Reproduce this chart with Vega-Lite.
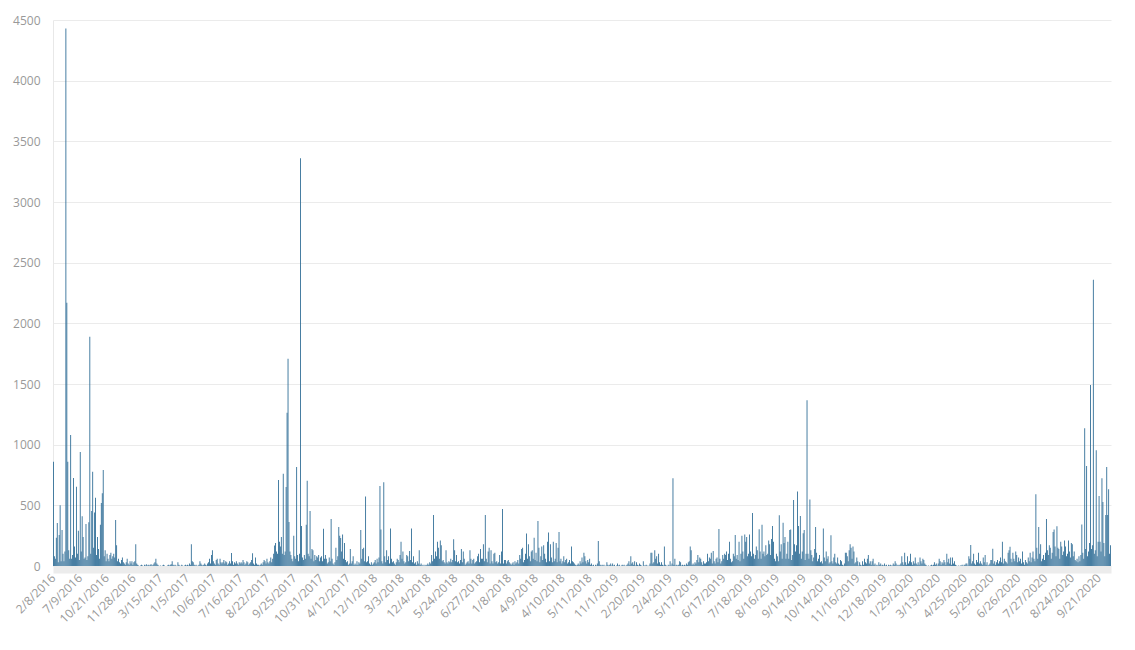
{
"$schema": "https://vega.github.io/schema/vega-lite/v6.json",
"autosize": {"type": "none"},
"padding": {"left": 53, "top": 20, "right": 24, "bottom": 84},
"width": 1058,
"height": 546,
"background": "#ffffff",
"config": {"view": {"stroke": null}, "font": "Open Sans"},
"data": {"values": [
{"d":"2/8/2016","v":860},{"d":"3/8/2016","v":80},{"d":"4/8/2016","v":60},{"d":"5/8/2016","v":233},{"d":"6/8/2016","v":355},{"d":"7/8/2016","v":30},{"d":"8/8/2016","v":255},{"d":"9/8/2016","v":500},{"d":"10/8/2016","v":40},{"d":"11/8/2016","v":297},{"d":"12/8/2016","v":100},{"d":"8/13/2016","v":40},{"d":"8/14/2016","v":120},{"d":"8/15/2016","v":4430},{"d":"8/16/2016","v":2170},{"d":"8/17/2016","v":860},{"d":"8/18/2016","v":130},{"d":"8/19/2016","v":60},{"d":"8/20/2016","v":1080},{"d":"8/21/2016","v":60},{"d":"8/22/2016","v":90},{"d":"8/23/2016","v":725},{"d":"8/24/2016","v":160},{"d":"8/25/2016","v":70},{"d":"8/26/2016","v":654},{"d":"8/27/2016","v":100},{"d":"8/28/2016","v":290},{"d":"8/29/2016","v":50},
{"d":"7/9/2016","v":940},{"d":"8/9/2016","v":120},{"d":"9/9/2016","v":410},{"d":"10/9/2016","v":240},{"d":"11/9/2016","v":60},{"d":"12/9/2016","v":70},{"d":"9/13/2016","v":346},{"d":"9/14/2016","v":50},{"d":"9/15/2016","v":80},{"d":"9/16/2016","v":360},{"d":"9/17/2016","v":1890},{"d":"9/18/2016","v":100},{"d":"9/19/2016","v":453},{"d":"9/20/2016","v":777},{"d":"9/21/2016","v":150},{"d":"9/22/2016","v":440},{"d":"9/23/2016","v":563},{"d":"9/24/2016","v":90},{"d":"9/25/2016","v":240},{"d":"9/26/2016","v":140},{"d":"9/27/2016","v":60},{"d":"9/28/2016","v":340},{"d":"9/29/2016","v":520},{"d":"9/30/2016","v":600},{"d":"1/10/2016","v":791},{"d":"2/10/2016","v":80},{"d":"3/10/2016","v":130},{"d":"4/10/2016","v":40},
{"d":"10/21/2016","v":100},{"d":"10/22/2016","v":60},{"d":"10/23/2016","v":40},{"d":"10/24/2016","v":90},{"d":"10/25/2016","v":110},{"d":"10/26/2016","v":60},{"d":"10/27/2016","v":80},{"d":"10/28/2016","v":100},{"d":"10/29/2016","v":70},{"d":"10/30/2016","v":380},{"d":"10/31/2016","v":170},{"d":"1/11/2016","v":40},{"d":"2/11/2016","v":60},{"d":"3/11/2016","v":30},{"d":"4/11/2016","v":20},{"d":"5/11/2016","v":50},{"d":"6/11/2016","v":70},{"d":"7/11/2016","v":30},{"d":"8/11/2016","v":20},{"d":"9/11/2016","v":10},{"d":"10/11/2016","v":30},{"d":"11/11/2016","v":60},{"d":"12/11/2016","v":20},{"d":"11/13/2016","v":10},{"d":"11/14/2016","v":40},{"d":"11/15/2016","v":20},{"d":"11/16/2016","v":40},{"d":"11/17/2016","v":10},
{"d":"11/28/2016","v":30},{"d":"11/29/2016","v":40},{"d":"11/30/2016","v":180},{"d":"1/12/2016","v":20},{"d":"2/12/2016","v":10},{"d":"3/12/2016","v":5},{"d":"4/12/2016","v":0},{"d":"5/12/2016","v":5},{"d":"6/12/2016","v":10},{"d":"7/12/2016","v":5},{"d":"8/12/2016","v":0},{"d":"9/12/2016","v":10},{"d":"10/12/2016","v":5},{"d":"11/12/2016","v":15},{"d":"12/12/2016","v":5},{"d":"12/13/2016","v":10},{"d":"12/14/2016","v":5},{"d":"12/15/2016","v":10},{"d":"12/16/2016","v":15},{"d":"12/17/2016","v":5},{"d":"12/18/2016","v":10},{"d":"12/19/2016","v":20},{"d":"12/20/2016","v":30},{"d":"12/21/2016","v":60},{"d":"12/22/2016","v":20},{"d":"12/23/2016","v":10},{"d":"12/24/2016","v":5},{"d":"12/25/2016","v":0},
{"d":"3/15/2017","v":5},{"d":"3/16/2017","v":0},{"d":"3/17/2017","v":5},{"d":"3/18/2017","v":10},{"d":"3/19/2017","v":5},{"d":"3/20/2017","v":0},{"d":"3/21/2017","v":0},{"d":"3/22/2017","v":5},{"d":"3/23/2017","v":10},{"d":"3/24/2017","v":5},{"d":"3/25/2017","v":10},{"d":"3/26/2017","v":15},{"d":"3/27/2017","v":40},{"d":"3/28/2017","v":10},{"d":"3/29/2017","v":5},{"d":"3/30/2017","v":10},{"d":"3/31/2017","v":5},{"d":"1/4/2017","v":0},{"d":"2/4/2017","v":30},{"d":"3/4/2017","v":10},{"d":"4/4/2017","v":5},{"d":"5/4/2017","v":0},{"d":"6/4/2017","v":10},{"d":"7/4/2017","v":5},{"d":"8/4/2017","v":0},{"d":"9/4/2017","v":5},{"d":"10/4/2017","v":10},{"d":"11/4/2017","v":5},
{"d":"1/5/2017","v":10},{"d":"2/5/2017","v":5},{"d":"3/5/2017","v":20},{"d":"4/5/2017","v":10},{"d":"5/5/2017","v":180},{"d":"6/5/2017","v":40},{"d":"7/5/2017","v":30},{"d":"8/5/2017","v":10},{"d":"9/5/2017","v":5},{"d":"10/5/2017","v":10},{"d":"11/5/2017","v":0},{"d":"12/5/2017","v":5},{"d":"5/13/2017","v":10},{"d":"5/14/2017","v":40},{"d":"5/15/2017","v":20},{"d":"5/16/2017","v":10},{"d":"5/17/2017","v":5},{"d":"5/18/2017","v":10},{"d":"5/19/2017","v":20},{"d":"5/20/2017","v":10},{"d":"5/21/2017","v":5},{"d":"5/22/2017","v":20},{"d":"5/23/2017","v":30},{"d":"5/24/2017","v":60},{"d":"5/25/2017","v":20},{"d":"5/26/2017","v":90},{"d":"5/27/2017","v":130},{"d":"5/28/2017","v":40},
{"d":"10/6/2017","v":20},{"d":"11/6/2017","v":10},{"d":"12/6/2017","v":50},{"d":"6/13/2017","v":60},{"d":"6/14/2017","v":20},{"d":"6/15/2017","v":10},{"d":"6/16/2017","v":60},{"d":"6/17/2017","v":30},{"d":"6/18/2017","v":20},{"d":"6/19/2017","v":30},{"d":"6/20/2017","v":50},{"d":"6/21/2017","v":20},{"d":"6/22/2017","v":40},{"d":"6/23/2017","v":30},{"d":"6/24/2017","v":10},{"d":"6/25/2017","v":20},{"d":"6/26/2017","v":40},{"d":"6/27/2017","v":20},{"d":"6/28/2017","v":107},{"d":"6/29/2017","v":40},{"d":"6/30/2017","v":10},{"d":"1/7/2017","v":30},{"d":"2/7/2017","v":20},{"d":"3/7/2017","v":40},{"d":"4/7/2017","v":20},{"d":"5/7/2017","v":10},{"d":"6/7/2017","v":30},{"d":"7/7/2017","v":20},
{"d":"7/16/2017","v":30},{"d":"7/17/2017","v":20},{"d":"7/18/2017","v":50},{"d":"7/19/2017","v":30},{"d":"7/20/2017","v":10},{"d":"7/21/2017","v":20},{"d":"7/22/2017","v":40},{"d":"7/23/2017","v":30},{"d":"7/24/2017","v":10},{"d":"7/25/2017","v":20},{"d":"7/26/2017","v":30},{"d":"7/27/2017","v":50},{"d":"7/28/2017","v":105},{"d":"7/29/2017","v":20},{"d":"7/30/2017","v":10},{"d":"7/31/2017","v":70},{"d":"1/8/2017","v":20},{"d":"2/8/2017","v":10},{"d":"3/8/2017","v":10},{"d":"4/8/2017","v":5},{"d":"5/8/2017","v":10},{"d":"6/8/2017","v":20},{"d":"7/8/2017","v":10},{"d":"8/8/2017","v":30},{"d":"9/8/2017","v":50},{"d":"10/8/2017","v":40},{"d":"11/8/2017","v":20},{"d":"12/8/2017","v":60},
{"d":"8/22/2017","v":30},{"d":"8/23/2017","v":20},{"d":"8/24/2017","v":40},{"d":"8/25/2017","v":70},{"d":"8/26/2017","v":30},{"d":"8/27/2017","v":60},{"d":"8/28/2017","v":100},{"d":"8/29/2017","v":168},{"d":"8/30/2017","v":190},{"d":"8/31/2017","v":120},{"d":"1/9/2017","v":100},{"d":"2/9/2017","v":709},{"d":"3/9/2017","v":200},{"d":"4/9/2017","v":160},{"d":"5/9/2017","v":240},{"d":"6/9/2017","v":100},{"d":"7/9/2017","v":761},{"d":"8/9/2017","v":90},{"d":"9/9/2017","v":120},{"d":"10/9/2017","v":651},{"d":"11/9/2017","v":1264},{"d":"12/9/2017","v":1709},{"d":"9/13/2017","v":363},{"d":"9/14/2017","v":120},{"d":"9/15/2017","v":90},{"d":"9/16/2017","v":60},{"d":"9/17/2017","v":40},{"d":"9/18/2017","v":250},
{"d":"9/25/2017","v":80},{"d":"9/26/2017","v":60},{"d":"9/27/2017","v":816},{"d":"9/28/2017","v":90},{"d":"9/29/2017","v":40},{"d":"9/30/2017","v":100},{"d":"1/10/2017","v":3360},{"d":"2/10/2017","v":330},{"d":"3/10/2017","v":70},{"d":"4/10/2017","v":50},{"d":"5/10/2017","v":90},{"d":"6/10/2017","v":60},{"d":"7/10/2017","v":340},{"d":"8/10/2017","v":703},{"d":"9/10/2017","v":100},{"d":"10/10/2017","v":80},{"d":"11/10/2017","v":453},{"d":"12/10/2017","v":60},{"d":"10/13/2017","v":140},{"d":"10/14/2017","v":130},{"d":"10/15/2017","v":40},{"d":"10/16/2017","v":90},{"d":"10/17/2017","v":50},{"d":"10/18/2017","v":80},{"d":"10/19/2017","v":70},{"d":"10/20/2017","v":90},{"d":"10/21/2017","v":40},{"d":"10/22/2017","v":70},
{"d":"10/31/2017","v":80},{"d":"1/11/2017","v":40},{"d":"2/11/2017","v":308},{"d":"3/11/2017","v":60},{"d":"4/11/2017","v":90},{"d":"5/11/2017","v":60},{"d":"6/11/2017","v":20},{"d":"7/11/2017","v":30},{"d":"8/11/2017","v":70},{"d":"9/11/2017","v":40},{"d":"10/11/2017","v":387},{"d":"11/11/2017","v":60},{"d":"12/11/2017","v":20},{"d":"11/13/2017","v":10},{"d":"11/14/2017","v":30},{"d":"11/15/2017","v":150},{"d":"11/16/2017","v":50},{"d":"11/17/2017","v":80},{"d":"11/18/2017","v":321},{"d":"11/19/2017","v":250},{"d":"11/20/2017","v":230},{"d":"11/21/2017","v":120},{"d":"11/22/2017","v":260},{"d":"11/23/2017","v":60},{"d":"11/24/2017","v":190},{"d":"11/25/2017","v":50},{"d":"11/26/2017","v":30},{"d":"11/27/2017","v":40},
{"d":"4/12/2017","v":10},{"d":"5/12/2017","v":20},{"d":"6/12/2017","v":140},{"d":"7/12/2017","v":20},{"d":"8/12/2017","v":40},{"d":"9/12/2017","v":80},{"d":"10/12/2017","v":10},{"d":"11/12/2017","v":20},{"d":"12/12/2017","v":10},{"d":"12/13/2017","v":40},{"d":"12/14/2017","v":10},{"d":"12/15/2017","v":30},{"d":"12/16/2017","v":20},{"d":"12/17/2017","v":297},{"d":"12/18/2017","v":60},{"d":"12/19/2017","v":140},{"d":"12/20/2017","v":150},{"d":"12/21/2017","v":40},{"d":"12/22/2017","v":572},{"d":"12/23/2017","v":30},{"d":"12/24/2017","v":40},{"d":"12/25/2017","v":80},{"d":"12/26/2017","v":20},{"d":"12/27/2017","v":10},{"d":"12/28/2017","v":30},{"d":"12/29/2017","v":10},{"d":"12/30/2017","v":20},{"d":"12/31/2017","v":30},
{"d":"12/1/2018","v":50},{"d":"1/13/2018","v":20},{"d":"1/14/2018","v":60},{"d":"1/15/2018","v":30},{"d":"1/16/2018","v":70},{"d":"1/17/2018","v":660},{"d":"1/18/2018","v":300},{"d":"1/19/2018","v":40},{"d":"1/20/2018","v":20},{"d":"1/21/2018","v":690},{"d":"1/22/2018","v":80},{"d":"1/23/2018","v":30},{"d":"1/24/2018","v":130},{"d":"1/25/2018","v":50},{"d":"1/26/2018","v":80},{"d":"1/27/2018","v":20},{"d":"1/28/2018","v":310},{"d":"1/29/2018","v":60},{"d":"1/30/2018","v":30},{"d":"1/31/2018","v":40},{"d":"1/2/2018","v":20},{"d":"2/2/2018","v":10},{"d":"3/2/2018","v":30},{"d":"4/2/2018","v":60},{"d":"5/2/2018","v":50},{"d":"6/2/2018","v":30},{"d":"7/2/2018","v":90},{"d":"8/2/2018","v":200},
{"d":"3/3/2018","v":60},{"d":"4/3/2018","v":120},{"d":"5/3/2018","v":40},{"d":"6/3/2018","v":20},{"d":"7/3/2018","v":30},{"d":"8/3/2018","v":90},{"d":"9/3/2018","v":80},{"d":"10/3/2018","v":40},{"d":"11/3/2018","v":124},{"d":"12/3/2018","v":50},{"d":"3/13/2018","v":310},{"d":"3/14/2018","v":30},{"d":"3/15/2018","v":80},{"d":"3/16/2018","v":20},{"d":"3/17/2018","v":30},{"d":"3/18/2018","v":10},{"d":"3/19/2018","v":40},{"d":"3/20/2018","v":20},{"d":"3/21/2018","v":130},{"d":"3/22/2018","v":10},{"d":"3/23/2018","v":20},{"d":"3/24/2018","v":5},{"d":"3/25/2018","v":10},{"d":"3/26/2018","v":0},{"d":"3/27/2018","v":10},{"d":"3/28/2018","v":5},{"d":"3/29/2018","v":10},{"d":"3/30/2018","v":20},
{"d":"12/4/2018","v":10},{"d":"4/13/2018","v":30},{"d":"4/14/2018","v":20},{"d":"4/15/2018","v":90},{"d":"4/16/2018","v":40},{"d":"4/17/2018","v":420},{"d":"4/18/2018","v":60},{"d":"4/19/2018","v":120},{"d":"4/20/2018","v":80},{"d":"4/21/2018","v":200},{"d":"4/22/2018","v":150},{"d":"4/23/2018","v":60},{"d":"4/24/2018","v":210},{"d":"4/25/2018","v":170},{"d":"4/26/2018","v":40},{"d":"4/27/2018","v":50},{"d":"4/28/2018","v":30},{"d":"4/29/2018","v":20},{"d":"4/30/2018","v":130},{"d":"1/5/2018","v":30},{"d":"2/5/2018","v":20},{"d":"3/5/2018","v":40},{"d":"4/5/2018","v":30},{"d":"5/5/2018","v":60},{"d":"6/5/2018","v":30},{"d":"7/5/2018","v":50},{"d":"8/5/2018","v":220},{"d":"9/5/2018","v":130},
{"d":"5/24/2018","v":40},{"d":"5/25/2018","v":90},{"d":"5/26/2018","v":30},{"d":"5/27/2018","v":40},{"d":"5/28/2018","v":20},{"d":"5/29/2018","v":50},{"d":"5/30/2018","v":140},{"d":"5/31/2018","v":30},{"d":"1/6/2018","v":120},{"d":"2/6/2018","v":60},{"d":"3/6/2018","v":10},{"d":"4/6/2018","v":20},{"d":"5/6/2018","v":30},{"d":"6/6/2018","v":40},{"d":"7/6/2018","v":20},{"d":"8/6/2018","v":130},{"d":"9/6/2018","v":60},{"d":"10/6/2018","v":20},{"d":"11/6/2018","v":50},{"d":"12/6/2018","v":60},{"d":"6/13/2018","v":20},{"d":"6/14/2018","v":30},{"d":"6/15/2018","v":40},{"d":"6/16/2018","v":80},{"d":"6/17/2018","v":100},{"d":"6/18/2018","v":30},{"d":"6/19/2018","v":140},{"d":"6/20/2018","v":60},
{"d":"6/27/2018","v":60},{"d":"6/28/2018","v":180},{"d":"6/29/2018","v":40},{"d":"6/30/2018","v":420},{"d":"1/7/2018","v":60},{"d":"2/7/2018","v":30},{"d":"3/7/2018","v":120},{"d":"4/7/2018","v":150},{"d":"5/7/2018","v":20},{"d":"6/7/2018","v":130},{"d":"7/7/2018","v":40},{"d":"8/7/2018","v":20},{"d":"9/7/2018","v":100},{"d":"10/7/2018","v":110},{"d":"11/7/2018","v":30},{"d":"12/7/2018","v":40},{"d":"7/13/2018","v":20},{"d":"7/14/2018","v":30},{"d":"7/15/2018","v":90},{"d":"7/16/2018","v":20},{"d":"7/17/2018","v":120},{"d":"7/18/2018","v":470},{"d":"7/19/2018","v":20},{"d":"7/20/2018","v":50},{"d":"7/21/2018","v":50},{"d":"7/22/2018","v":20},{"d":"7/23/2018","v":40},{"d":"7/24/2018","v":50},
{"d":"1/8/2018","v":30},{"d":"2/8/2018","v":20},{"d":"3/8/2018","v":10},{"d":"4/8/2018","v":20},{"d":"5/8/2018","v":30},{"d":"6/8/2018","v":10},{"d":"7/8/2018","v":40},{"d":"8/8/2018","v":20},{"d":"9/8/2018","v":30},{"d":"10/8/2018","v":50},{"d":"11/8/2018","v":20},{"d":"12/8/2018","v":90},{"d":"8/13/2018","v":60},{"d":"8/14/2018","v":140},{"d":"8/15/2018","v":150},{"d":"8/16/2018","v":30},{"d":"8/17/2018","v":50},{"d":"8/18/2018","v":100},{"d":"8/19/2018","v":267},{"d":"8/20/2018","v":60},{"d":"8/21/2018","v":180},{"d":"8/22/2018","v":80},{"d":"8/23/2018","v":40},{"d":"8/24/2018","v":120},{"d":"8/25/2018","v":130},{"d":"8/26/2018","v":60},{"d":"8/27/2018","v":233},{"d":"8/28/2018","v":50},
{"d":"4/9/2018","v":110},{"d":"5/9/2018","v":40},{"d":"6/9/2018","v":371},{"d":"7/9/2018","v":150},{"d":"8/9/2018","v":30},{"d":"9/9/2018","v":80},{"d":"10/9/2018","v":160},{"d":"11/9/2018","v":50},{"d":"12/9/2018","v":170},{"d":"9/13/2018","v":100},{"d":"9/14/2018","v":60},{"d":"9/15/2018","v":30},{"d":"9/16/2018","v":200},{"d":"9/17/2018","v":277},{"d":"9/18/2018","v":40},{"d":"9/19/2018","v":180},{"d":"9/20/2018","v":70},{"d":"9/21/2018","v":30},{"d":"9/22/2018","v":200},{"d":"9/23/2018","v":40},{"d":"9/24/2018","v":60},{"d":"9/25/2018","v":190},{"d":"9/26/2018","v":30},{"d":"9/27/2018","v":150},{"d":"9/28/2018","v":280},{"d":"9/29/2018","v":40},{"d":"9/30/2018","v":60},{"d":"1/10/2018","v":20},
{"d":"4/10/2018","v":40},{"d":"5/10/2018","v":80},{"d":"6/10/2018","v":30},{"d":"7/10/2018","v":50},{"d":"8/10/2018","v":60},{"d":"9/10/2018","v":20},{"d":"10/10/2018","v":30},{"d":"11/10/2018","v":50},{"d":"12/10/2018","v":20},{"d":"10/13/2018","v":160},{"d":"10/14/2018","v":40},{"d":"10/15/2018","v":30},{"d":"10/16/2018","v":20},{"d":"10/17/2018","v":10},{"d":"10/18/2018","v":5},{"d":"10/19/2018","v":10},{"d":"10/20/2018","v":20},{"d":"10/21/2018","v":10},{"d":"10/22/2018","v":40},{"d":"10/23/2018","v":20},{"d":"10/24/2018","v":70},{"d":"10/25/2018","v":30},{"d":"10/26/2018","v":110},{"d":"10/27/2018","v":80},{"d":"10/28/2018","v":40},{"d":"10/29/2018","v":20},{"d":"10/30/2018","v":50},{"d":"10/31/2018","v":30},
{"d":"5/11/2018","v":60},{"d":"6/11/2018","v":10},{"d":"7/11/2018","v":20},{"d":"8/11/2018","v":5},{"d":"9/11/2018","v":10},{"d":"10/11/2018","v":0},{"d":"11/11/2018","v":10},{"d":"12/11/2018","v":5},{"d":"11/13/2018","v":20},{"d":"11/14/2018","v":206},{"d":"11/15/2018","v":40},{"d":"11/16/2018","v":10},{"d":"11/17/2018","v":5},{"d":"11/18/2018","v":10},{"d":"11/19/2018","v":5},{"d":"11/20/2018","v":10},{"d":"11/21/2018","v":0},{"d":"11/22/2018","v":5},{"d":"11/23/2018","v":30},{"d":"11/24/2018","v":10},{"d":"11/25/2018","v":5},{"d":"11/26/2018","v":10},{"d":"11/27/2018","v":20},{"d":"11/28/2018","v":5},{"d":"11/29/2018","v":20},{"d":"11/30/2018","v":5},{"d":"1/12/2018","v":10},{"d":"2/12/2018","v":0},
{"d":"11/1/2019","v":5},{"d":"12/1/2019","v":20},{"d":"1/13/2019","v":5},{"d":"1/14/2019","v":10},{"d":"1/15/2019","v":0},{"d":"1/16/2019","v":5},{"d":"1/17/2019","v":10},{"d":"1/18/2019","v":5},{"d":"1/19/2019","v":10},{"d":"1/20/2019","v":0},{"d":"1/21/2019","v":5},{"d":"1/22/2019","v":10},{"d":"1/23/2019","v":20},{"d":"1/24/2019","v":40},{"d":"1/25/2019","v":10},{"d":"1/26/2019","v":80},{"d":"1/27/2019","v":20},{"d":"1/28/2019","v":30},{"d":"1/29/2019","v":10},{"d":"1/30/2019","v":40},{"d":"1/31/2019","v":5},{"d":"1/2/2019","v":30},{"d":"2/2/2019","v":10},{"d":"3/2/2019","v":5},{"d":"4/2/2019","v":20},{"d":"5/2/2019","v":10},{"d":"6/2/2019","v":5},{"d":"7/2/2019","v":0},
{"d":"2/20/2019","v":40},{"d":"2/21/2019","v":5},{"d":"2/22/2019","v":5},{"d":"2/23/2019","v":10},{"d":"2/24/2019","v":5},{"d":"2/25/2019","v":0},{"d":"2/26/2019","v":5},{"d":"2/27/2019","v":20},{"d":"2/28/2019","v":110},{"d":"1/3/2019","v":110},{"d":"2/3/2019","v":20},{"d":"3/3/2019","v":30},{"d":"4/3/2019","v":130},{"d":"5/3/2019","v":60},{"d":"6/3/2019","v":80},{"d":"7/3/2019","v":20},{"d":"8/3/2019","v":100},{"d":"9/3/2019","v":30},{"d":"10/3/2019","v":10},{"d":"11/3/2019","v":30},{"d":"12/3/2019","v":10},{"d":"3/13/2019","v":5},{"d":"3/14/2019","v":160},{"d":"3/15/2019","v":10},{"d":"3/16/2019","v":5},{"d":"3/17/2019","v":0},{"d":"3/18/2019","v":10},{"d":"3/19/2019","v":5},
{"d":"2/4/2019","v":40},{"d":"3/4/2019","v":5},{"d":"4/4/2019","v":20},{"d":"5/4/2019","v":723},{"d":"6/4/2019","v":10},{"d":"7/4/2019","v":60},{"d":"8/4/2019","v":5},{"d":"9/4/2019","v":10},{"d":"10/4/2019","v":5},{"d":"11/4/2019","v":10},{"d":"12/4/2019","v":40},{"d":"4/13/2019","v":30},{"d":"4/14/2019","v":5},{"d":"4/15/2019","v":10},{"d":"4/16/2019","v":5},{"d":"4/17/2019","v":10},{"d":"4/18/2019","v":5},{"d":"4/19/2019","v":20},{"d":"4/20/2019","v":10},{"d":"4/21/2019","v":30},{"d":"4/22/2019","v":40},{"d":"4/23/2019","v":160},{"d":"4/24/2019","v":130},{"d":"4/25/2019","v":10},{"d":"4/26/2019","v":20},{"d":"4/27/2019","v":10},{"d":"4/28/2019","v":30},{"d":"4/29/2019","v":20},
{"d":"5/17/2019","v":50},{"d":"5/18/2019","v":90},{"d":"5/19/2019","v":30},{"d":"5/20/2019","v":70},{"d":"5/21/2019","v":60},{"d":"5/22/2019","v":30},{"d":"5/23/2019","v":10},{"d":"5/24/2019","v":40},{"d":"5/25/2019","v":20},{"d":"5/26/2019","v":20},{"d":"5/27/2019","v":30},{"d":"5/28/2019","v":100},{"d":"5/29/2019","v":40},{"d":"5/30/2019","v":70},{"d":"5/31/2019","v":60},{"d":"1/6/2019","v":110},{"d":"2/6/2019","v":20},{"d":"3/6/2019","v":124},{"d":"4/6/2019","v":40},{"d":"5/6/2019","v":20},{"d":"6/6/2019","v":60},{"d":"7/6/2019","v":70},{"d":"8/6/2019","v":30},{"d":"9/6/2019","v":305},{"d":"10/6/2019","v":60},{"d":"11/6/2019","v":20},{"d":"12/6/2019","v":40},{"d":"6/13/2019","v":90},
{"d":"6/17/2019","v":60},{"d":"6/18/2019","v":100},{"d":"6/19/2019","v":90},{"d":"6/20/2019","v":120},{"d":"6/21/2019","v":50},{"d":"6/22/2019","v":100},{"d":"6/23/2019","v":200},{"d":"6/24/2019","v":60},{"d":"6/25/2019","v":30},{"d":"6/26/2019","v":40},{"d":"6/27/2019","v":100},{"d":"6/28/2019","v":80},{"d":"6/29/2019","v":255},{"d":"6/30/2019","v":60},{"d":"1/7/2019","v":90},{"d":"2/7/2019","v":50},{"d":"3/7/2019","v":200},{"d":"4/7/2019","v":40},{"d":"5/7/2019","v":100},{"d":"6/7/2019","v":250},{"d":"7/7/2019","v":120},{"d":"8/7/2019","v":60},{"d":"9/7/2019","v":260},{"d":"10/7/2019","v":200},{"d":"11/7/2019","v":240},{"d":"12/7/2019","v":80},{"d":"7/13/2019","v":100},{"d":"7/14/2019","v":260},
{"d":"7/18/2019","v":120},{"d":"7/19/2019","v":80},{"d":"7/20/2019","v":437},{"d":"7/21/2019","v":100},{"d":"7/22/2019","v":60},{"d":"7/23/2019","v":90},{"d":"7/24/2019","v":160},{"d":"7/25/2019","v":130},{"d":"7/26/2019","v":60},{"d":"7/27/2019","v":302},{"d":"7/28/2019","v":120},{"d":"7/29/2019","v":60},{"d":"7/30/2019","v":340},{"d":"7/31/2019","v":100},{"d":"1/8/2019","v":120},{"d":"2/8/2019","v":80},{"d":"3/8/2019","v":170},{"d":"4/8/2019","v":90},{"d":"5/8/2019","v":100},{"d":"6/8/2019","v":210},{"d":"7/8/2019","v":180},{"d":"8/8/2019","v":90},{"d":"9/8/2019","v":222},{"d":"10/8/2019","v":330},{"d":"11/8/2019","v":200},{"d":"12/8/2019","v":60},{"d":"8/13/2019","v":40},{"d":"8/14/2019","v":100},
{"d":"8/16/2019","v":80},{"d":"8/17/2019","v":40},{"d":"8/18/2019","v":418},{"d":"8/19/2019","v":120},{"d":"8/20/2019","v":180},{"d":"8/21/2019","v":60},{"d":"8/22/2019","v":357},{"d":"8/23/2019","v":190},{"d":"8/24/2019","v":240},{"d":"8/25/2019","v":60},{"d":"8/26/2019","v":100},{"d":"8/27/2019","v":200},{"d":"8/28/2019","v":60},{"d":"8/29/2019","v":297},{"d":"8/30/2019","v":300},{"d":"8/31/2019","v":50},{"d":"1/9/2019","v":90},{"d":"2/9/2019","v":544},{"d":"3/9/2019","v":180},{"d":"4/9/2019","v":120},{"d":"5/9/2019","v":170},{"d":"6/9/2019","v":615},{"d":"7/9/2019","v":330},{"d":"8/9/2019","v":100},{"d":"9/9/2019","v":412},{"d":"10/9/2019","v":60},{"d":"11/9/2019","v":120},{"d":"12/9/2019","v":270},
{"d":"9/14/2019","v":297},{"d":"9/15/2019","v":50},{"d":"9/16/2019","v":100},{"d":"9/17/2019","v":1366},{"d":"9/18/2019","v":100},{"d":"9/19/2019","v":60},{"d":"9/20/2019","v":549},{"d":"9/21/2019","v":130},{"d":"9/22/2019","v":90},{"d":"9/23/2019","v":40},{"d":"9/24/2019","v":70},{"d":"9/25/2019","v":140},{"d":"9/26/2019","v":321},{"d":"9/27/2019","v":110},{"d":"9/28/2019","v":40},{"d":"9/29/2019","v":60},{"d":"9/30/2019","v":90},{"d":"1/10/2019","v":30},{"d":"2/10/2019","v":40},{"d":"3/10/2019","v":20},{"d":"4/10/2019","v":310},{"d":"5/10/2019","v":70},{"d":"6/10/2019","v":40},{"d":"7/10/2019","v":120},{"d":"8/10/2019","v":60},{"d":"9/10/2019","v":80},{"d":"10/10/2019","v":20},{"d":"11/10/2019","v":30},
{"d":"10/14/2019","v":253},{"d":"10/15/2019","v":40},{"d":"10/16/2019","v":20},{"d":"10/17/2019","v":70},{"d":"10/18/2019","v":100},{"d":"10/19/2019","v":30},{"d":"10/20/2019","v":20},{"d":"10/21/2019","v":70},{"d":"10/22/2019","v":20},{"d":"10/23/2019","v":10},{"d":"10/24/2019","v":50},{"d":"10/25/2019","v":40},{"d":"10/26/2019","v":10},{"d":"10/27/2019","v":5},{"d":"10/28/2019","v":20},{"d":"10/29/2019","v":110},{"d":"10/30/2019","v":110},{"d":"10/31/2019","v":80},{"d":"1/11/2019","v":40},{"d":"2/11/2019","v":130},{"d":"3/11/2019","v":179},{"d":"4/11/2019","v":150},{"d":"5/11/2019","v":60},{"d":"6/11/2019","v":160},{"d":"7/11/2019","v":120},{"d":"8/11/2019","v":20},{"d":"9/11/2019","v":30},{"d":"10/11/2019","v":70},
{"d":"11/16/2019","v":40},{"d":"11/17/2019","v":5},{"d":"11/18/2019","v":30},{"d":"11/19/2019","v":10},{"d":"11/20/2019","v":5},{"d":"11/21/2019","v":40},{"d":"11/22/2019","v":10},{"d":"11/23/2019","v":60},{"d":"11/24/2019","v":30},{"d":"11/25/2019","v":20},{"d":"11/26/2019","v":60},{"d":"11/27/2019","v":90},{"d":"11/28/2019","v":20},{"d":"11/29/2019","v":40},{"d":"11/30/2019","v":10},{"d":"1/12/2019","v":40},{"d":"2/12/2019","v":60},{"d":"3/12/2019","v":10},{"d":"4/12/2019","v":20},{"d":"5/12/2019","v":5},{"d":"6/12/2019","v":10},{"d":"7/12/2019","v":5},{"d":"8/12/2019","v":30},{"d":"9/12/2019","v":10},{"d":"10/12/2019","v":20},{"d":"11/12/2019","v":5},{"d":"12/12/2019","v":10},{"d":"12/13/2019","v":5},
{"d":"12/18/2019","v":20},{"d":"12/19/2019","v":5},{"d":"12/20/2019","v":10},{"d":"12/21/2019","v":0},{"d":"12/22/2019","v":10},{"d":"12/23/2019","v":5},{"d":"12/24/2019","v":10},{"d":"12/25/2019","v":5},{"d":"12/26/2019","v":5},{"d":"12/27/2019","v":20},{"d":"12/28/2019","v":10},{"d":"12/29/2019","v":40},{"d":"12/30/2019","v":20},{"d":"12/31/2019","v":5},{"d":"1/1/2020","v":10},{"d":"2/1/2020","v":5},{"d":"3/1/2020","v":10},{"d":"4/1/2020","v":20},{"d":"5/1/2020","v":80},{"d":"6/1/2020","v":30},{"d":"7/1/2020","v":10},{"d":"8/1/2020","v":110},{"d":"9/1/2020","v":30},{"d":"10/1/2020","v":10},{"d":"11/1/2020","v":80},{"d":"12/1/2020","v":20},{"d":"1/13/2020","v":40},{"d":"1/14/2020","v":100},
{"d":"1/29/2020","v":30},{"d":"1/30/2020","v":10},{"d":"1/31/2020","v":40},{"d":"1/2/2020","v":20},{"d":"2/2/2020","v":70},{"d":"3/2/2020","v":20},{"d":"4/2/2020","v":10},{"d":"5/2/2020","v":30},{"d":"6/2/2020","v":10},{"d":"7/2/2020","v":70},{"d":"8/2/2020","v":40},{"d":"9/2/2020","v":20},{"d":"10/2/2020","v":60},{"d":"11/2/2020","v":50},{"d":"12/2/2020","v":20},{"d":"2/13/2020","v":10},{"d":"2/14/2020","v":5},{"d":"2/15/2020","v":0},{"d":"2/16/2020","v":5},{"d":"2/17/2020","v":0},{"d":"2/18/2020","v":5},{"d":"2/19/2020","v":10},{"d":"2/20/2020","v":5},{"d":"2/21/2020","v":10},{"d":"2/22/2020","v":30},{"d":"2/23/2020","v":10},{"d":"2/24/2020","v":20},{"d":"2/25/2020","v":5},
{"d":"3/13/2020","v":20},{"d":"3/14/2020","v":60},{"d":"3/15/2020","v":40},{"d":"3/16/2020","v":10},{"d":"3/17/2020","v":30},{"d":"3/18/2020","v":20},{"d":"3/19/2020","v":50},{"d":"3/20/2020","v":30},{"d":"3/21/2020","v":10},{"d":"3/22/2020","v":100},{"d":"3/23/2020","v":30},{"d":"3/24/2020","v":60},{"d":"3/25/2020","v":20},{"d":"3/26/2020","v":70},{"d":"3/27/2020","v":10},{"d":"3/28/2020","v":70},{"d":"3/29/2020","v":20},{"d":"3/30/2020","v":40},{"d":"3/31/2020","v":10},{"d":"1/4/2020","v":5},{"d":"2/4/2020","v":0},{"d":"3/4/2020","v":5},{"d":"4/4/2020","v":0},{"d":"5/4/2020","v":5},{"d":"6/4/2020","v":5},{"d":"7/4/2020","v":10},{"d":"8/4/2020","v":0},{"d":"9/4/2020","v":10},
{"d":"4/25/2020","v":10},{"d":"4/26/2020","v":20},{"d":"4/27/2020","v":20},{"d":"4/28/2020","v":5},{"d":"4/29/2020","v":80},{"d":"4/30/2020","v":60},{"d":"1/5/2020","v":173},{"d":"2/5/2020","v":20},{"d":"3/5/2020","v":40},{"d":"4/5/2020","v":100},{"d":"5/5/2020","v":20},{"d":"6/5/2020","v":10},{"d":"7/5/2020","v":50},{"d":"8/5/2020","v":30},{"d":"9/5/2020","v":110},{"d":"10/5/2020","v":20},{"d":"11/5/2020","v":40},{"d":"12/5/2020","v":20},{"d":"5/13/2020","v":10},{"d":"5/14/2020","v":70},{"d":"5/15/2020","v":30},{"d":"5/16/2020","v":90},{"d":"5/17/2020","v":10},{"d":"5/18/2020","v":30},{"d":"5/19/2020","v":5},{"d":"5/20/2020","v":10},{"d":"5/21/2020","v":20},{"d":"5/22/2020","v":50},
{"d":"5/29/2020","v":50},{"d":"5/30/2020","v":143},{"d":"5/31/2020","v":20},{"d":"1/6/2020","v":40},{"d":"2/6/2020","v":10},{"d":"3/6/2020","v":30},{"d":"4/6/2020","v":50},{"d":"5/6/2020","v":20},{"d":"6/6/2020","v":40},{"d":"7/6/2020","v":70},{"d":"8/6/2020","v":30},{"d":"9/6/2020","v":200},{"d":"10/6/2020","v":20},{"d":"11/6/2020","v":60},{"d":"12/6/2020","v":40},{"d":"6/13/2020","v":30},{"d":"6/14/2020","v":20},{"d":"6/15/2020","v":110},{"d":"6/16/2020","v":130},{"d":"6/17/2020","v":159},{"d":"6/18/2020","v":60},{"d":"6/19/2020","v":30},{"d":"6/20/2020","v":110},{"d":"6/21/2020","v":60},{"d":"6/22/2020","v":40},{"d":"6/23/2020","v":120},{"d":"6/24/2020","v":90},{"d":"6/25/2020","v":30},
{"d":"6/26/2020","v":70},{"d":"6/27/2020","v":40},{"d":"6/28/2020","v":60},{"d":"6/29/2020","v":20},{"d":"6/30/2020","v":120},{"d":"1/7/2020","v":30},{"d":"2/7/2020","v":10},{"d":"3/7/2020","v":50},{"d":"4/7/2020","v":30},{"d":"5/7/2020","v":20},{"d":"6/7/2020","v":70},{"d":"7/7/2020","v":40},{"d":"8/7/2020","v":110},{"d":"9/7/2020","v":30},{"d":"10/7/2020","v":70},{"d":"11/7/2020","v":120},{"d":"12/7/2020","v":60},{"d":"7/13/2020","v":40},{"d":"7/14/2020","v":591},{"d":"7/15/2020","v":150},{"d":"7/16/2020","v":60},{"d":"7/17/2020","v":321},{"d":"7/18/2020","v":100},{"d":"7/19/2020","v":180},{"d":"7/20/2020","v":40},{"d":"7/21/2020","v":60},{"d":"7/22/2020","v":90},{"d":"7/23/2020","v":50},
{"d":"7/27/2020","v":110},{"d":"7/28/2020","v":387},{"d":"7/29/2020","v":130},{"d":"7/30/2020","v":90},{"d":"7/31/2020","v":170},{"d":"1/8/2020","v":150},{"d":"2/8/2020","v":60},{"d":"3/8/2020","v":110},{"d":"4/8/2020","v":280},{"d":"5/8/2020","v":300},{"d":"6/8/2020","v":160},{"d":"7/8/2020","v":80},{"d":"8/8/2020","v":327},{"d":"9/8/2020","v":150},{"d":"10/8/2020","v":140},{"d":"11/8/2020","v":60},{"d":"12/8/2020","v":200},{"d":"8/13/2020","v":160},{"d":"8/14/2020","v":90},{"d":"8/15/2020","v":120},{"d":"8/16/2020","v":210},{"d":"8/17/2020","v":160},{"d":"8/18/2020","v":80},{"d":"8/19/2020","v":100},{"d":"8/20/2020","v":210},{"d":"8/21/2020","v":120},{"d":"8/22/2020","v":70},{"d":"8/23/2020","v":190},
{"d":"8/24/2020","v":180},{"d":"8/25/2020","v":80},{"d":"8/26/2020","v":120},{"d":"8/27/2020","v":50},{"d":"8/28/2020","v":40},{"d":"8/29/2020","v":60},{"d":"8/30/2020","v":30},{"d":"8/31/2020","v":80},{"d":"1/9/2020","v":40},{"d":"2/9/2020","v":90},{"d":"3/9/2020","v":343},{"d":"4/9/2020","v":110},{"d":"5/9/2020","v":60},{"d":"6/9/2020","v":1135},{"d":"7/9/2020","v":140},{"d":"8/9/2020","v":824},{"d":"9/9/2020","v":80},{"d":"10/9/2020","v":120},{"d":"11/9/2020","v":190},{"d":"12/9/2020","v":1492},{"d":"9/13/2020","v":140},{"d":"9/14/2020","v":170},{"d":"9/15/2020","v":2360},{"d":"9/16/2020","v":100},{"d":"9/17/2020","v":130},{"d":"9/18/2020","v":954},{"d":"9/19/2020","v":80},{"d":"9/20/2020","v":200},
{"d":"9/21/2020","v":577},{"d":"9/22/2020","v":200},{"d":"9/23/2020","v":120},{"d":"9/24/2020","v":723},{"d":"9/25/2020","v":528},{"d":"9/26/2020","v":190},{"d":"9/27/2020","v":80},{"d":"9/28/2020","v":420},{"d":"9/29/2020","v":816},{"d":"9/30/2020","v":420},{"d":"1/10/2020","v":632},{"d":"2/10/2020","v":100},{"d":"3/10/2020","v":170}
]},
"mark": {"type": "bar", "color": "#2b6a94"},
"encoding": {
  "x": {
    "field": "d", "type": "ordinal", "sort": null,
    "scale": {"paddingInner": 0.1, "paddingOuter": 0},
    "axis": {
      "title": null,
      "values": ["2/8/2016","7/9/2016","10/21/2016","11/28/2016","3/15/2017","1/5/2017","10/6/2017","7/16/2017","8/22/2017","9/25/2017","10/31/2017","4/12/2017","12/1/2018","3/3/2018","12/4/2018","5/24/2018","6/27/2018","1/8/2018","4/9/2018","4/10/2018","5/11/2018","11/1/2019","2/20/2019","2/4/2019","5/17/2019","6/17/2019","7/18/2019","8/16/2019","9/14/2019","10/14/2019","11/16/2019","12/18/2019","1/29/2020","3/13/2020","4/25/2020","5/29/2020","6/26/2020","7/27/2020","8/24/2020","9/21/2020"],
      "labelAngle": -45,
      "labelAlign": "right",
      "labelBaseline": "middle",
      "labelOverlap": false,
      "labelBound": false,
      "labelFont": "Open Sans",
      "labelFontSize": 12,
      "labelColor": "#999999",
      "labelPadding": 6,
      "ticks": false,
      "domainColor": "#ececec",
      "domainWidth": 7,
      "offset": 3.5,
      "grid": false
    }
  },
  "y": {
    "field": "v", "type": "quantitative",
    "scale": {"domain": [0, 4500], "nice": false},
    "axis": {
      "title": null,
      "values": [0,500,1000,1500,2000,2500,3000,3500,4000,4500],
      "format": "d",
      "labelFont": "Open Sans",
      "labelFontSize": 12,
      "labelColor": "#999999",
      "labelPadding": 13,
      "ticks": false,
      "domainColor": "#e8e8e8",
      "gridColor": "#ebebeb",
      "grid": true
    }
  }
}
}
